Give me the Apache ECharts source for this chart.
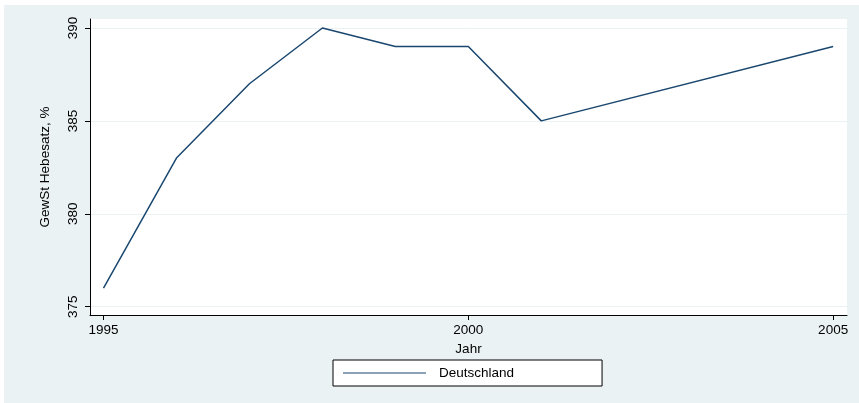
<!DOCTYPE html>
<html>
<head>
<meta charset="utf-8">
<script src="https://cdn.jsdelivr.net/npm/echarts@6/dist/echarts.min.js"></script>
<style>
html,body{margin:0;padding:0;background:#ffffff;}
#chart{position:absolute;left:0;top:0;width:859px;height:403px;}
</style>
</head>
<body>
<div id="chart"></div>
<script>
const years = [1995, 1996, 1997, 1998, 1999, 2000, 2001, 2005];
const hebesatz = [376, 383, 387, 390, 389, 389, 385, 389];
const xTicks = [1995, 2000, 2005];
const yTicks = [375, 380, 385, 390];
const seriesName = 'Deutschland';
const xTitle = 'Jahr';
const yTitle = 'GewSt Hebesatz, %';

const FONT = '"Liberation Sans", Arial, Helvetica, sans-serif';
const chart = echarts.init(document.getElementById('chart'), null, {renderer: 'canvas'});
chart.setOption({
  animation: false,
  backgroundColor: 'transparent',
  textStyle: {fontFamily: FONT},
  graphic: [{
    type: 'rect', z: -10, silent: true,
    shape: {x: 4, y: 5, width: 855, height: 398},
    style: {fill: '#EAF2F3'}
  }],
  grid: {
    left: 90, top: 19, right: 12, bottom: 88,
    show: true, backgroundColor: '#ffffff', borderWidth: 0
  },
  legend: {
    left: 333, top: 360,
    padding: [5, 88, 5, 10],
    itemWidth: 83, itemHeight: 1,
    backgroundColor: '#ffffff',
    borderColor: '#000000', borderWidth: 1,
    borderRadius: 0,
    textStyle: {fontFamily: FONT, fontSize: 13.5, color: '#000', padding: [0, 0, 0, 8], lineHeight: 16},
    data: [{name: seriesName, icon: 'path://M0,0L100,0L100,1L0,1Z'}]
  },
  xAxis: {
    type: 'value',
    min: 1994.815, max: 2005.19,
    name: xTitle, nameLocation: 'middle', nameGap: 24,
    nameTextStyle: {fontFamily: FONT, fontSize: 13.5, color: '#000'},
    axisLine: {show: true, lineStyle: {color: '#000', width: 1}},
    axisTick: {show: true, customValues: xTicks, length: 5, inside: false, lineStyle: {color: '#000'}},
    axisLabel: {customValues: xTicks, margin: 8, fontFamily: FONT, fontSize: 13.5, color: '#000',
                formatter: v => String(v)},
    splitLine: {show: false}
  },
  yAxis: {
    type: 'value',
    min: 374.553, max: 390.484,
    name: yTitle, nameLocation: 'middle', nameGap: 38, nameRotate: 90,
    nameTextStyle: {fontFamily: FONT, fontSize: 13.5, color: '#000'},
    axisLine: {show: true, lineStyle: {color: '#000', width: 1}},
    axisTick: {show: true, customValues: yTicks, length: 5, inside: false, lineStyle: {color: '#000'}},
    axisLabel: {customValues: yTicks, rotate: 90, margin: 10, fontFamily: FONT, fontSize: 13.5, color: '#000',
                formatter: v => String(v)},
    splitLine: {show: true, customValues: yTicks, lineStyle: {color: '#EAF2F3', width: 1}}
  },
  series: [{
    name: seriesName,
    type: 'line',
    data: years.map((y, i) => [y, hebesatz[i]]),
    showSymbol: false, symbol: 'none',
    lineStyle: {color: '#1a476f', width: 1.5},
    itemStyle: {color: '#1a476f'}
  }]
});
</script>
</body>
</html>
